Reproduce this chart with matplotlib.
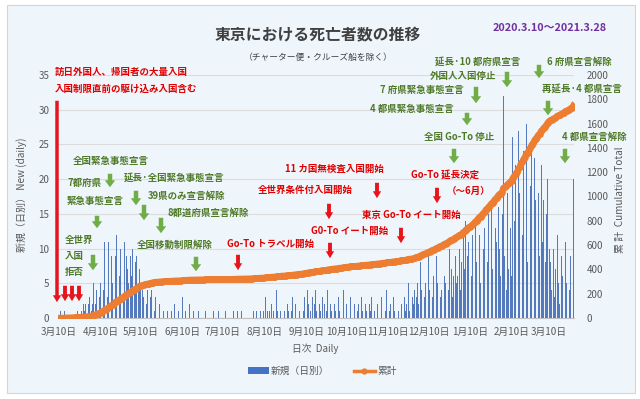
import numpy as np
import pandas as pd
import matplotlib
matplotlib.use('Agg')
import matplotlib.pyplot as plt
from matplotlib.patches import FancyArrowPatch, Rectangle, Patch
from matplotlib.lines import Line2D

plt.rcParams['font.family'] = ['Noto Sans CJK JP', 'DejaVu Sans']

start_date = '2020-03-10'
end_date = '2021-03-28'

daily_2020_03 = [0,1,0,0,1,0,1,0,0,1,0,0,1,0,1,0,0,1,2,1,2,0]
daily_2020_04 = [2,3,1,2,5,2,4,6,3,5, 8,4,11,6,3,11,7,9,5,10, 9,12,4,6,10,8,3,11,9,7]
daily_2020_05 = [5,9,6,10,4,8,9,5,7,4, 4,3,4,2,4,1,3,4,2,1, 3,1,0,2,1,0,1,2,0,1,0]
daily_2020_06 = [0,1,0,2,0,0,1,0,0,3, 0,1,0,0,2,0,0,1,0,0, 0,1,0,0,0,0,1,0,0,0]
daily_2020_07 = [0,0,1,0,0,0,1,0,0,0, 0,1,0,0,0,0,0,1,0,0, 1,0,0,1,0,0,0,1,0,0,1]
daily_2020_08 = [0,1,0,1,0,2,1,0,1,0, 3,1,0,1,2,0,1,0,4,1, 0,1,2,0,1,0,2,1,0,1,3]
daily_2020_09 = [1,2,0,3,1,0,2,1,3,0, 4,2,1,0,3,2,4,1,0,2, 1,3,0,2,1,4,0,2,1,3]
daily_2020_10 = [2,1,0,3,1,2,0,4,1,2, 0,1,3,0,1,2,0,1,2,0, 3,1,0,2,1,0,2,1,3,0,1]
daily_2020_11 = [1,2,0,1,3,0,2,1,4,0, 1,2,0,3,1,2,0,1,4,2, 0,3,1,2,5,1,0,3,2,4]
daily_2020_12 = [3,5,2,8,4,6,3,5,2,9, 4,7,3,6,2,9,5,8,3,4, 9,6,5,8,4,10,7,3,6,9,5]
daily_2021_01 = [6,10,4,8,12,7,14,9,11,6, 6,12,9,14,8,16,12,5,17,10, 13,19,8,15,10,16,7,18,13,11,16]
daily_2021_02 = [10,6,15,32,9,4,18,7,13,6, 26,14,22,9,27,18,30,12,24,16, 28,8,21,19,25,11,23,17]
daily_2021_03 = [12,18,9,22,11,17,8,15,20,10, 8,4,10,3,7,12,5,2,9,6, 4,11,5,7,4,9,3,20]

daily = np.array(daily_2020_03 + daily_2020_04 + daily_2020_05 + daily_2020_06 +
                 daily_2020_07 + daily_2020_08 + daily_2020_09 + daily_2020_10 +
                 daily_2020_11 + daily_2020_12 + daily_2021_01 + daily_2021_02 +
                 daily_2021_03)
dates = pd.date_range(start_date, end_date, freq='D')
assert len(daily) == len(dates), (len(daily), len(dates))
cumulative = np.cumsum(daily)

left_ticks = list(range(0, 36, 5))
right_ticks = list(range(0, 2001, 200))

title = '東京における死亡者数の推移'
subtitle = '（チャーター便・クルーズ船を除く）'
period = '2020.3.10～2021.3.28'

RED = '#E00000'
RED_ARROW = '#E8141B'
GTXT = '#4F7A28'
GARROW = '#70AD47'
GRAY = '#595959'

red_notes = [
    ('訪日外国人、帰国者の大量入国', 55, 72),
    ('入国制限直前の駆け込み入国含む', 55, 89),
    ('Go-To トラベル開始', 227, 244),
    ('11 カ国無検査入国開始', 285, 169),
    ('全世界条件付入国開始', 258, 190),
    ('G0-To イート開始', 311, 231),
    ('東京 Go-To イート開始', 362, 215),
    ('Go-To 延長決定', 411, 175),
    ('（～6月）', 447, 191),
]
green_notes = [
    ('全世界', 65, 240), ('入国', 65, 256), ('拒否', 65, 272),
    ('7都府県', 68, 183), ('緊急事態宣言', 67, 201),
    ('全国緊急事態宣言', 73, 161),
    ('延長·全国緊急事態宣言', 124, 178),
    ('39県のみ宣言解除', 148, 196),
    ('8都道府県宣言解除', 168, 213),
    ('全国移動制限解除', 137, 245),
    ('全国 Go-To 停止', 424, 137),
    ('4 都県緊急事態宣言', 370, 109),
    ('7 府県緊急事態宣言', 380, 90),
    ('外国人入国停止', 430, 76),
    ('延長·10 都府県宣言', 435, 62),
    ('6 府県宣言解除', 547, 62),
    ('再延長·4 都県宣言', 542, 89),
    ('4 都県宣言解除', 562, 137),
]
red_arrows = [(65, 283, 304), (72, 283, 304), (79, 283, 304),
              (238, 252, 273), (377, 180, 201), (329, 201, 222),
              (330, 240, 261), (401, 225, 246), (437, 185, 206)]
green_arrows = [(93, 252, 273), (97, 213, 231), (110, 171, 190), (136, 188, 208),
                (144, 202, 223), (161, 215, 236), (196, 254, 274), (454, 146, 166),
                (467, 110, 128), (476, 84, 106), (507, 69, 90), (539, 62, 81),
                (548, 98, 118), (565, 146, 166)]

W, H = 640, 399
fig = plt.figure(figsize=(W/100, H/100), dpi=100)
fig.patch.set_facecolor('white')
fig.add_artist(Rectangle((7/W, 1-393/H), 628/W, 388/H, transform=fig.transFigure,
                         facecolor='#EEF5FB', edgecolor='#D2D6DA', lw=0.8, zorder=-10))

ax = fig.add_axes([58.3/W, 1-318/H, 515.7/W, 243/H])
ax.set_facecolor('none')
x = np.arange(len(daily))
ax.bar(x, daily, width=0.6, color='#5479BD', linewidth=0, zorder=2)
ax.set_xlim(-0.5, len(daily)-0.5)
ax.set_ylim(0, 35)
ax.set_yticks(left_ticks)
ax.grid(axis='y', color='#DCDCDC', lw=0.8)
ax.set_axisbelow(True)
for s in ax.spines.values():
    s.set_visible(False)
ax.spines['bottom'].set_visible(True)
ax.spines['bottom'].set_color('#BFBFBF')
tick_idx = [i for i, d in enumerate(dates) if d.day == 10]
ax.set_xticks(tick_idx)
ax.set_xticklabels([f'{dates[i].month}月10日' for i in tick_idx])
ax.tick_params(axis='x', length=0, labelsize=7, colors=GRAY, pad=6.5)
ax.tick_params(axis='y', length=0, labelsize=7, colors=GRAY, pad=6.5)

ax2 = ax.twinx()
ax2.plot(x, cumulative, color='#ED7D31', lw=4.5, marker='o', ms=3.8, zorder=3)
ax2.set_ylim(0, 2000)
ax2.set_yticks(right_ticks)
for s in ax2.spines.values():
    s.set_visible(False)
ax2.tick_params(axis='y', length=0, labelsize=7, colors=GRAY, pad=9)

fig.text(318/W, 1-35/H, title, ha='center', va='center', fontsize=11.4,
         fontweight='bold', color='#404040')
fig.text(318/W, 1-57/H, subtitle, ha='center', va='center', fontsize=6.3, color='#404040')
fig.text(550/W, 1-28/H, period, ha='center', va='center', fontsize=7.8,
         fontweight='bold', color='#7030A0')
fig.text(22/W, 1-195/H, '新規（日別） New (daily)', rotation=90, ha='center', va='center',
         fontsize=7.2, color=GRAY)
fig.text(620/W, 1-200/H, '累 計  Cumulative Total', rotation=90, ha='center', va='center',
         fontsize=7.2, color=GRAY)
fig.text(315/W, 1-349/H, '日次  Daily', ha='center', va='center', fontsize=7, color=GRAY)

handles = [Patch(facecolor='#4472C4', edgecolor='none'),
           Line2D([0], [0], color='#ED7D31', lw=2.5, marker='o', ms=3.5)]
fig.legend(handles, ['新規（日別）', '累計'], loc='center', ncol=2, frameon=False,
           bbox_to_anchor=(322/W, 1-371/H), fontsize=7, labelcolor=GRAY,
           handlelength=2.2, handleheight=0.6, columnspacing=2.5, handletextpad=0.2)

for t, px, py in red_notes:
    fig.text(px/W, 1-py/H, t, ha='left', va='center', fontsize=6.8,
             fontweight='bold', color=RED)
for t, px, py in green_notes:
    fig.text(px/W, 1-py/H, t, ha='left', va='center', fontsize=6.8,
             fontweight='bold', color=GTXT)

def arrow(px, y0, y1, color, tail=0.32, head=0.75):
    a = FancyArrowPatch((px/W, 1-y0/H), (px/W, 1-y1/H), transform=fig.transFigure,
                        arrowstyle=f'simple,head_length=0.5,head_width={head},tail_width={tail}',
                        mutation_scale=10, color=color, lw=0, zorder=5)
    fig.add_artist(a)

arrow(57, 98, 305, RED_ARROW, tail=0.25, head=0.6)
for px, y0, y1 in red_arrows:
    arrow(px, y0, y1, RED_ARROW, tail=0.28, head=0.6)
for px, y0, y1 in green_arrows:
    arrow(px, y0, y1, GARROW)

fig.savefig('out.png', dpi=100, facecolor='white')
